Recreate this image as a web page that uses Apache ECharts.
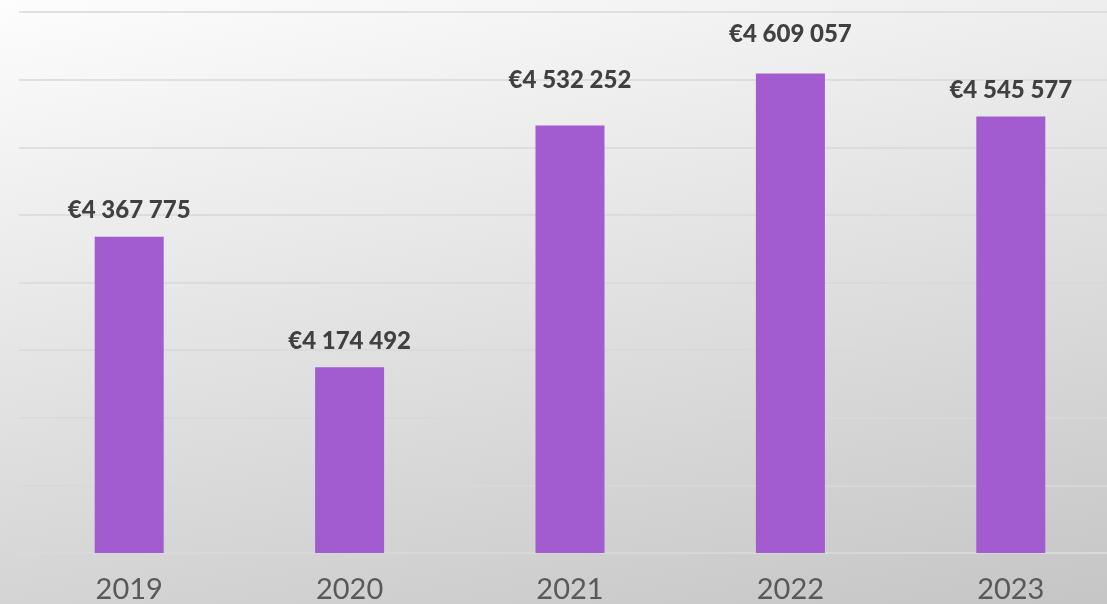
<!DOCTYPE html>
<html>
<head>
<meta charset="utf-8">
<script src="https://cdn.jsdelivr.net/npm/echarts@6/dist/echarts.min.js"></script>
<style>
  html, body { margin: 0; padding: 0; overflow: hidden; width: 1107px; height: 604px; background: #c6c6c6; }
  #chart { width: 1121px; height: 604px; }
</style>
</head>
<body>
<div id="chart"></div>
<script>
const years = ["2019", "2020", "2021", "2022", "2023"];
const revenue = [4367775, 4174492, 4532252, 4609057, 4545577];
const axisMin = 3900000;
const axisMax = 4700000;
const axisStep = 100000;

// two labels sit a little higher than the rest in the original
const labelGap = [14, 14, 33, 27, 14];

const formatEuro = (v) => "€" + String(v).replace(/\B(?=(\d{3})+(?!\d))/g, " ");

const chart = echarts.init(document.getElementById("chart"), null, { renderer: "canvas" });

chart.setOption({
  animation: false,
  backgroundColor: {
    type: "linear", x: 0, y: 0, x2: 0.14, y2: 1.3,
    colorStops: [
      { offset: 0, color: "#fdfdfd" },
      { offset: 1, color: "#c6c6c6" },
    ],
  },
  grid: { left: 19, right: 0, top: 12, bottom: 49 },
  xAxis: {
    type: "category",
    data: years,
    axisTick: { show: false },
    axisLine: { lineStyle: { color: "#d9d9d9", width: 1.5 } },
    axisLabel: { color: "#595959", fontFamily: "Lato", fontSize: 29, margin: 22 },
  },
  yAxis: {
    type: "value",
    min: axisMin,
    max: axisMax,
    interval: axisStep,
    axisLabel: { show: false },
    axisLine: { show: false },
    axisTick: { show: false },
    splitLine: { lineStyle: { color: "#d9d9d9", width: 1.5 } },
  },
  series: [
    {
      type: "bar",
      barWidth: 69,
      itemStyle: { color: "#a35bd0" },
      data: revenue.map((v, i) => ({ value: v, label: { distance: labelGap[i] } })),
      label: {
        show: true,
        position: "top",
        color: "#404040",
        fontFamily: "Lato",
        fontWeight: 900,
        fontSize: 24,
        formatter: (p) => formatEuro(p.value),
      },
    },
  ],
});
</script>
</body>
</html>
